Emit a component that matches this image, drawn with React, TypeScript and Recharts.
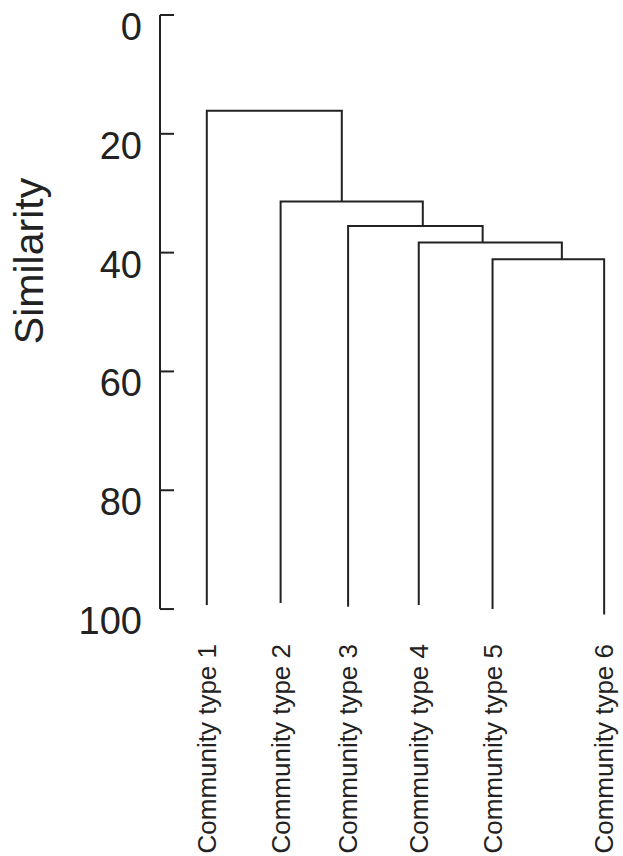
import { LineChart, Line, XAxis, YAxis, ReferenceLine } from "recharts";

const communities = [
  "Community type 1",
  "Community type 2",
  "Community type 3",
  "Community type 4",
  "Community type 5",
  "Community type 6",
];
// horizontal position of each leaf and where its stem ends (similarity scale)
const leafX = [10.4, 26.8, 41.8, 57.5, 73.9, 98.7];
const leafEnd = [99.3, 99.0, 99.6, 99.3, 100, 100.9];
// merge i joins leaf i with the cluster holding all leaves to its right
const mergeHeight = [16.1, 31.4, 35.5, 38.3, 41.1];
// x where the cluster formed by merge i+1 hangs from merge i
const attachX = [40.4, 58.4, 71.7, 89.3];
const yTicks = [0, 20, 40, 60, 80, 100];

const font = '"Liberation Sans", Arial, sans-serif';
const ink = "#222";

const branches = mergeHeight.map((h, i) => {
  const last = i === mergeHeight.length - 1;
  const rightX = last ? leafX[i + 1] : attachX[i];
  const rightEnd = last ? leafEnd[i + 1] : mergeHeight[i + 1];
  return [
    { x: leafX[i], y: leafEnd[i] },
    { x: leafX[i], y: h },
    { x: rightX, y: h },
    { x: rightX, y: rightEnd },
  ];
});

const YTick = ({ x, y, payload }: any) => (
  <text x={x} y={y} dy={25} textAnchor="end" fontSize={38} fontFamily={font} fill={ink}>
    {payload.value}
  </text>
);

const XTick = ({ x, y, index }: any) => {
  const ty = y + 21;
  return (
    <text
      x={x}
      y={ty}
      dy="0.35em"
      textAnchor="end"
      transform={`rotate(-90, ${x}, ${ty})`}
      fontSize={26}
      fontFamily={font}
      fill={ink}
    >
      {communities[index]}
    </text>
  );
};

const SimilarityLabel = ({ viewBox }: any) => {
  const lx = 43;
  const ly = viewBox ? viewBox.y + 246 : 261;
  return (
    <text
      x={lx}
      y={ly}
      textAnchor="middle"
      transform={`rotate(-90, ${lx}, ${ly})`}
      fontSize={41}
      fontFamily={font}
      fill={ink}
    >
      Similarity
    </text>
  );
};

export default function App() {
  return (
    <div style={{ position: "absolute", left: 0, top: 0, background: "#fff" }}>
      <LineChart width={623} height={856} margin={{ top: 15, right: 13, bottom: 0, left: 0 }}>
        <XAxis
          type="number"
          dataKey="x"
          domain={[0, 100]}
          ticks={leafX}
          height={241}
          axisLine={false}
          tickLine={false}
          tick={<XTick />}
          interval={0}
        />
        <YAxis
          type="number"
          dataKey="y"
          domain={[0, 101]}
          reversed
          ticks={yTicks}
          width={160}
          axisLine={false}
          tickSize={-14}
          tickMargin={32}
          tickLine={{ stroke: ink, strokeWidth: 2 }}
          tick={<YTick />}
          interval={0}
          label={{ content: (p: any) => <SimilarityLabel viewBox={p.viewBox} /> }}
        />
        <ReferenceLine
          segment={[
            { x: 0, y: 0 },
            { x: 0, y: 100 },
          ]}
          stroke={ink}
          strokeWidth={2}
        />
        {branches.map((pts, i) => (
          <Line
            key={i}
            data={pts}
            dataKey="y"
            type="linear"
            stroke={ink}
            strokeWidth={2}
            dot={false}
            isAnimationActive={false}
          />
        ))}
      </LineChart>
    </div>
  );
}
